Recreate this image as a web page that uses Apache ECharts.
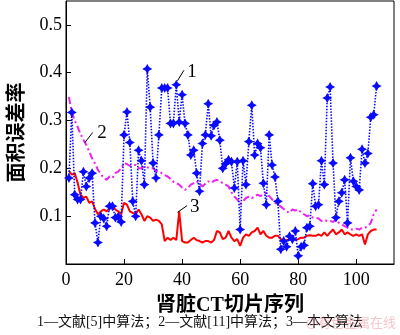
<!DOCTYPE html>
<html><head><meta charset="utf-8">
<script src="https://cdn.jsdelivr.net/npm/echarts@6/dist/echarts.min.js"></script>
<style>html,body{margin:0;padding:0;background:#fff}#c{width:400px;height:335px}</style>
</head><body><div id="c"></div>
<script>
// slice numbers 1..107 (x positions of samples)
const sliceCount = 107;
const slices = Array.from({length: sliceCount}, (_, i) => i + 1);
// series 1: 文献[5]中算法 (blue, dotted, star markers)
const series1 = [0.18,0.317,0.145,0.135,0.135,0.193,0.162,0.18,0.19,0.086,
  0.045,0.10,0.095,0.079,0.121,0.121,0.097,0.099,0.088,0.27,
  0.318,0.254,0.131,0.10,0.238,0.216,0.166,0.408,0.328,0.211,
  0.18,0.27,0.368,0.368,0.368,0.294,0.294,0.375,0.297,0.354,
  0.294,0.27,0.228,0.238,0.19,0.152,0.252,0.27,0.335,0.268,
  0.29,0.297,0.259,0.2,0.21,0.218,0.214,0.159,0.214,0.072,
  0.216,0.166,0.256,0.332,0.228,0.252,0.243,0.169,0.124,0.27,
  0.207,0.182,0.131,0.031,0.048,0.036,0.058,0.052,0.069,0.017,
  0.036,0.039,0.076,0.079,0.168,0.121,0.124,0.216,0.166,0.347,
  0.37,0.211,0.097,0.131,0.149,0.176,0.086,0.222,0.173,0.162,
  0.155,0.24,0.211,0.231,0.307,0.312,0.372];
// series 2: 文献[11]中算法 (magenta, dash-dot)
const series2 = [0.349,0.318,0.30,0.287,0.272,0.26,0.249,0.235,0.221,0.21,
  0.197,0.188,0.18,0.176,0.183,0.18,0.19,0.193,0.20,0.211,
  0.209,0.205,0.207,0.207,0.20,0.20,0.204,0.202,0.20,0.20,
  0.195,0.193,0.19,0.186,0.183,0.178,0.172,0.169,0.166,0.16,
  0.155,0.159,0.166,0.169,0.173,0.168,0.162,0.168,0.173,0.17,
  0.174,0.176,0.173,0.169,0.166,0.162,0.15,0.141,0.135,0.125,
  0.131,0.138,0.141,0.138,0.141,0.145,0.142,0.146,0.149,0.142,
  0.135,0.128,0.125,0.12,0.115,0.11,0.107,0.114,0.112,0.114,
  0.108,0.104,0.10,0.102,0.097,0.097,0.095,0.09,0.092,0.09,
  0.09,0.088,0.093,0.086,0.083,0.079,0.076,0.072,0.072,0.074,
  0.072,0.076,0.076,0.079,0.086,0.104,0.114];
// series 3: 本文算法 (red, solid)
const series3 = [0.195,0.187,0.19,0.17,0.145,0.138,0.141,0.128,0.131,0.115,
  0.104,0.11,0.114,0.11,0.117,0.121,0.114,0.11,0.104,0.128,
  0.124,0.11,0.107,0.104,0.114,0.104,0.09,0.1,0.097,0.09,
  0.093,0.09,0.083,0.048,0.055,0.05,0.055,0.05,0.11,0.048,
  0.045,0.045,0.05,0.055,0.05,0.048,0.045,0.048,0.048,0.045,
  0.05,0.069,0.066,0.052,0.055,0.069,0.055,0.048,0.052,0.038,
  0.055,0.062,0.059,0.066,0.069,0.076,0.062,0.069,0.059,0.055,
  0.055,0.059,0.059,0.052,0.048,0.05,0.052,0.055,0.05,0.052,
  0.055,0.055,0.059,0.06,0.059,0.059,0.062,0.059,0.066,0.059,
  0.066,0.072,0.062,0.066,0.072,0.062,0.066,0.062,0.059,0.062,
  0.059,0.062,0.041,0.062,0.069,0.072,0.072];
const xTicks = [0, 20, 40, 60, 80, 100];
const yTicks = [0.1, 0.2, 0.3, 0.4, 0.5];
const xName = '肾脏CT切片序列';
const yName = '面积误差率';
const caption = '1—文献[5]中算法；2—文献[11]中算法；3—本文算法';
const watermark = '@有色金属在线';
// callouts: [label, leader start, leader end, label anchor] in data units
const callouts = [
  ['1', [38.4, 0.383], [40.6, 0.405], [41.4, 0.402]],
  ['2', [6.5, 0.254], [9.2, 0.275], [10.4, 0.273]],
  ['3', [38.4, 0.108], [41.7, 0.122], [42.4, 0.119]]
];

const serif = '"Liberation Serif", "Times New Roman", "Noto Sans CJK SC", serif';
const pair = arr => arr.map((v, i) => [slices[i], v]);
const calloutLine = c => ({
  silent: true, symbol: ['none', 'none'], animation: false,
  lineStyle: {color: '#000', type: 'solid', width: 1},
  label: {show: false},
  data: [[{coord: c[1]}, {coord: c[2]}]]
});
const calloutText = c => ({
  silent: true, animation: false,
  symbol: 'circle', symbolSize: 2,
  itemStyle: {color: 'rgba(0,0,0,0)'},
  label: {show: true, position: 'right', distance: 0, formatter: c[0], color: '#000',
          fontFamily: serif, fontSize: 19},
  data: [{coord: c[3], value: c[0]}]
});
const star = 'path://M0,-10 L3.6,-3.6 L10,0 L3.6,3.6 L0,10 L-3.6,3.6 L-10,0 L-3.6,-3.6 Z';

const chart = echarts.init(document.getElementById('c'), null, {renderer: 'canvas'});
chart.setOption({
  animation: false,
  backgroundColor: '#fff',
  grid: {left: 52, right: 6, top: 1, bottom: 71, show: true, borderColor: '#000', borderWidth: 1},
  xAxis: {
    type: 'value', min: 0, max: 113, interval: 20,
    name: xName, nameLocation: 'middle', nameGap: 32,
    nameTextStyle: {fontFamily: serif, fontSize: 20, fontWeight: 'bold', color: '#000'},
    axisLine: {show: true, lineStyle: {color: '#000', width: 1}},
    axisTick: {inside: true, length: 5, customValues: xTicks, lineStyle: {color: '#000'}},
    axisLabel: {customValues: xTicks, fontFamily: serif, fontSize: 18, color: '#000', margin: 7},
    splitLine: {show: false}
  },
  yAxis: {
    type: 'value', min: 0, max: 0.55, interval: 0.1,
    name: yName, nameLocation: 'middle', nameGap: 38, nameRotate: 90,
    nameTextStyle: {fontFamily: serif, fontSize: 20, fontWeight: 'bold', color: '#000'},
    axisLine: {show: true, lineStyle: {color: '#000', width: 1}},
    axisTick: {inside: true, length: 5, customValues: yTicks, lineStyle: {color: '#000'}},
    axisLabel: {customValues: yTicks, formatter: v => v.toFixed(1), fontFamily: serif, fontSize: 18, color: '#000', margin: 4},
    splitLine: {show: false}
  },
  series: [
    {type: 'line', name: '2', data: pair(series2), showSymbol: false, symbol: 'none', z: 2,
     lineStyle: {color: '#ee22ee', width: 2, type: [7, 3, 2, 3]},
     markLine: calloutLine(callouts[1]), markPoint: calloutText(callouts[1])},
    {type: 'line', name: '3', data: pair(series3), showSymbol: false, symbol: 'none', z: 3,
     lineStyle: {color: '#ff0000', width: 2, type: 'solid'},
     markLine: calloutLine(callouts[2]), markPoint: calloutText(callouts[2])},
    {type: 'line', name: '1', data: pair(series1), symbol: star, symbolSize: 10, z: 4,
     itemStyle: {color: '#0a0aff'},
     lineStyle: {color: '#0a0aff', width: 1.6, type: [1.5, 1.5]},
     markLine: calloutLine(callouts[0]), markPoint: calloutText(callouts[0])}
  ],
  graphic: [
    {type: 'text', left: 'center', top: 315,
     style: {text: caption, fontFamily: serif, fontSize: 14, fill: '#111'}},
    {type: 'text', right: 4, top: 316,
     style: {text: watermark, fontFamily: '"Noto Sans CJK SC", sans-serif', fontSize: 13, fill: 'rgba(235,150,160,0.55)'}}
  ]
});
</script></body></html>
